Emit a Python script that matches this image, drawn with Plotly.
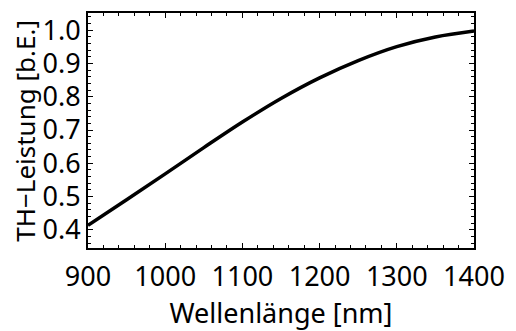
import plotly.graph_objects as go

wavelength = [900, 950, 1000, 1050, 1100, 1150, 1200, 1250, 1300, 1350, 1400]
power = [0.413, 0.490, 0.568, 0.647, 0.724, 0.795, 0.857, 0.909, 0.951, 0.980, 0.998]

x_ticks = [900, 1000, 1100, 1200, 1300, 1400]
y_ticks = [0.4, 0.5, 0.6, 0.7, 0.8, 0.9, 1.0]
y_title = "TH\u2212Leistung [b.E.]"

fig = go.Figure()
fig.add_trace(go.Scatter(x=wavelength, y=power, mode="lines",
                         line=dict(color="black", width=3.5, shape="spline", smoothing=1.0),
                         showlegend=False))

font = dict(family="Noto Sans", size=27, color="black")
yfont = dict(family="Noto Sans", size=26, color="black")
axis_common = dict(showline=True, linecolor="black", linewidth=2, mirror="ticks",
                   ticks="inside", ticklen=5, tickwidth=1.3, tickcolor="black",
                   showgrid=False, zeroline=False, tickfont=font)
fig.update_xaxes(range=[900, 1400], tickvals=x_ticks, ticktext=[str(v) for v in x_ticks],
                 ticklabelstandoff=4,
                 minor=dict(ticks="inside", ticklen=3, tickwidth=1, tickcolor="black", dtick=20, tick0=900),
                 title=dict(text="Wellenlänge [nm]", font=font, standoff=7), **axis_common)
fig.update_yaxes(range=[0.345, 1.052], tickvals=y_ticks, ticktext=[f"{v:.1f}" for v in y_ticks],
                 minor=dict(ticks="inside", ticklen=3, tickwidth=1, tickcolor="black", dtick=0.02, tick0=0.4),
                 **axis_common)
fig.add_annotation(text=y_title, xref="paper", yref="paper", x=-0.165, y=0.5,
                   xanchor="center", yanchor="middle", textangle=-90, showarrow=False,
                   font=yfont)
fig.update_layout(width=516, height=331, margin=dict(l=88, r=33, t=11, b=77),
                  plot_bgcolor="white", paper_bgcolor="white")
fig.write_html("out.html")
